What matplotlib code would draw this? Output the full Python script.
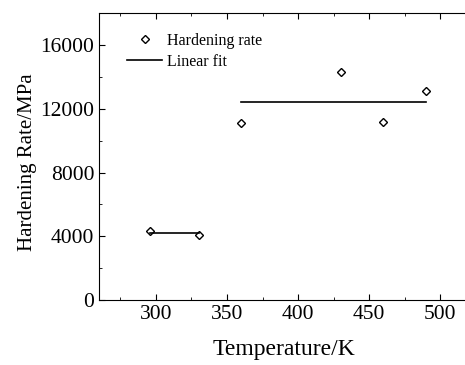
import matplotlib.pyplot as plt

plt.rcParams['font.family'] = ['Liberation Serif', 'DejaVu Serif']

temp = [296, 330, 360, 430, 460, 490]
rate = [4300, 4050, 11100, 14300, 11200, 13100]

fit1_x = [296, 330]
fit1_y = [4200, 4200]
fit2_x = [360, 490]
fit2_y = [12400, 12400]

fig = plt.figure(figsize=(4.65, 3.65), dpi=100)
ax = fig.add_axes([0.213, 0.178, 0.795, 0.786])

ax.plot(temp, rate, linestyle='none', marker='D', markersize=4.5,
        markerfacecolor='white', markeredgecolor='black', markeredgewidth=1,
        label='Hardening rate')
ax.plot(fit1_x, fit1_y, color='black', lw=1.2, label='Linear fit')
ax.plot(fit2_x, fit2_y, color='black', lw=1.2)

ax.set_xlim(260, 520)
ax.set_ylim(0, 18000)
ax.set_xticks([300, 350, 400, 450, 500])
ax.set_yticks([0, 4000, 8000, 12000, 16000])
ax.set_xticks([275, 325, 375, 425, 475], minor=True)
ax.set_yticks([2000, 6000, 10000, 14000], minor=True)
ax.tick_params(which='both', direction='in', top=True, right=False, labelsize=15.5)
ax.tick_params(which='major', length=4)
ax.tick_params(which='minor', length=2)

ax.set_xlabel('Temperature/K', fontsize=17, labelpad=11)
ax.set_ylabel('Hardening Rate/MPa', fontsize=15)
ax.yaxis.set_label_coords(-0.168, 0.48)

ax.legend(loc='upper left', frameon=False, fontsize=11.5, handlelength=2.2,
          handletextpad=0.3, bbox_to_anchor=(0.05, 0.965), borderaxespad=0.2,
          labelspacing=0.32)

fig.savefig('out.png', dpi=100)
